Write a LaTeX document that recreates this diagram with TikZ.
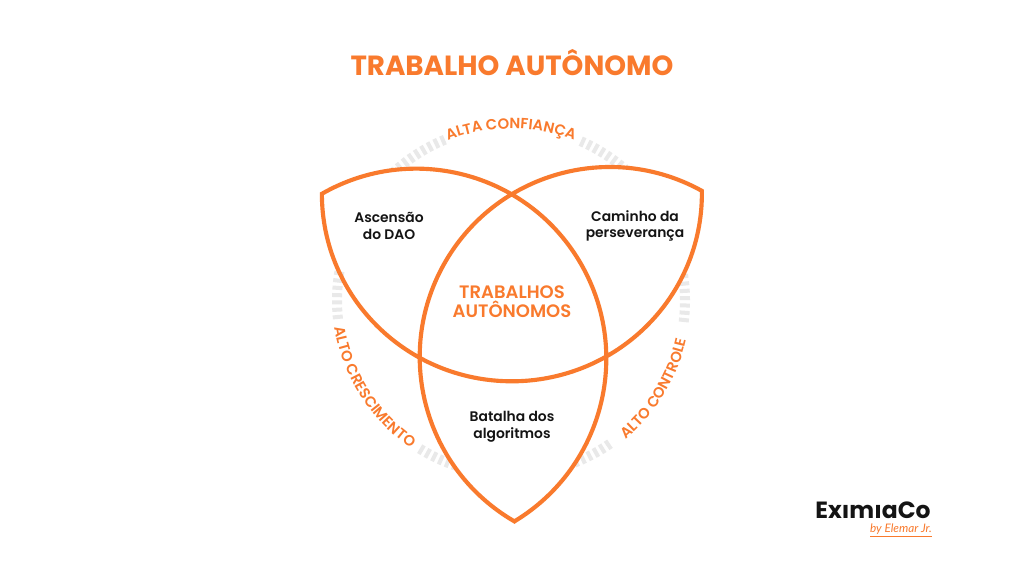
\documentclass[tikz,border=0pt]{standalone}
\usepackage{fontspec}
\usetikzlibrary{decorations.text,calc}
\setmainfont{Poppins}
\newfontfamily\semi{Poppins SemiBold}
\newfontfamily\heavyfont{Poppins Bold}
\newfontfamily\sigfont{Lato Italic}
\definecolor{brand}{HTML}{F97A2D}
\definecolor{tickgray}{HTML}{E9E9E9}
\definecolor{ink}{HTML}{141414}
\newcommand{\curvefont}{\semi\fontsize{11.1}{13}\selectfont}
\tikzset{
  x=0.75pt,y=0.75pt,
  petal/.style={draw=brand,line width=3.1pt,line join=miter,miter limit=10},
  ticks/.style={draw=tickgray,line width=3pt},
  label/.style={text=ink,align=center,font=\semi\fontsize{10.4}{12.6}\selectfont,inner sep=0pt},
  curved/.style={decorate,decoration={text along path,text align=center,
     text={|\curvefont\color{brand}|#1}}},
}
\begin{document}
\begin{tikzpicture}
\useasboundingbox (0,0) rectangle (1024,576);
\fill[white] (0,0) rectangle (1024,576);
\coordinate (ring) at (511,275.4);
\foreach \a in {113,115.4,...,136,46.5,48.9,...,66.5,171,173.4,...,187,-6.4,-4,...,8.6,239,241.4,...,251,-68,-65.6,...,-55}
  \draw[ticks] ($(ring)+(\a:169)$) -- ($(ring)+(\a:179)$);
% curved labels
\path[curved={ALTA CONFIANÇA}] ($(ring)+(113:172)$) arc[start angle=113,end angle=67,radius=172];
\path[curved={ALTO CRESCIMENTO}] ($(ring)+(187.5:178)$) arc[start angle=187.5,end angle=237,radius=178];
\path[curved={ALTO CONTROLE}] ($(ring)+(-51.5:180)$) arc[start angle=-51.5,end angle=-11.5,radius=180];
% petals
\coordinate (tip) at (515,55);
\fill[white] (321.9,382.3) arc[start angle=119.8,end angle=60.3,radius=190]
  arc[start angle=121.4,end angle=61,radius=190]
  arc[start angle=0,end angle=-59.6,radius=190]
  arc[start angle=2,end angle=-58.7,radius=190]
  arc[start angle=239.9,end angle=178.5,radius=190]
  arc[start angle=240,end angle=180,radius=190] -- cycle;
\draw[petal] (tip) arc[start angle=-58.7,end angle=119.8,radius=190]
  arc[start angle=180,end angle=360.9,x radius=190,y radius=187.5]
  arc[start angle=61,end angle=239.9,radius=190] -- cycle;
% texts
\node[text=brand,font=\heavyfont\fontsize{20.8}{24}\selectfont,inner sep=0pt] (title) at (512,513) {TRABALHO AUTÔNOMO};
\node[text=brand,align=center,font=\semi\fontsize{13.5}{14.4}\selectfont,inner sep=0pt] (center) at (512,274) {TRABALHOS\\AUTÔNOMOS};
\node[label] (dao) at (389,350) {Ascensão\\do DAO};
\node[label] (path) at (635,350) {Caminho da\\perseverança};
\node[label] (algo) at (512,149) {Batalha dos\\algoritmos};
% logo
\node[text=ink,font=\heavyfont\fontsize{17.6}{20}\selectfont,inner sep=0pt] (logo) at (873,66) {ExımıaCo};
\node[text=brand,font=\sigfont\fontsize{8.8}{10}\selectfont,inner sep=0pt] (sig) at (901,47) {by Elemar Jr.};
\draw[brand,line width=0.4pt] (870,40) -- (932,40);
\end{tikzpicture}
\end{document}
